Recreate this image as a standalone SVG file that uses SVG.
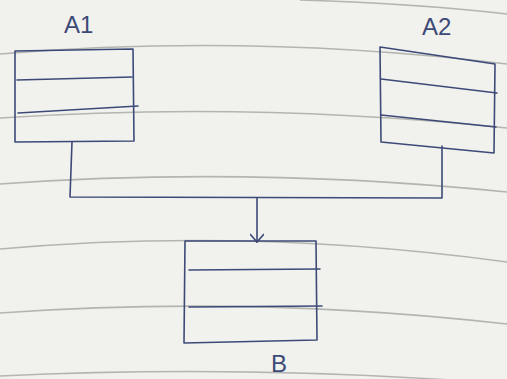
<svg xmlns="http://www.w3.org/2000/svg" width="507" height="379" viewBox="0 0 507 379">
<style>
.paper{fill:#f1f1ed}
.rule{fill:none;stroke:#b4b4b0;stroke-width:1.6}
.pen{fill:none;stroke:#3d4a78;stroke-width:1.6;stroke-linejoin:round;stroke-linecap:round}
.lbl{font-family:"Liberation Sans",Arial,sans-serif;font-size:24px;fill:#3d4a78}
</style>
<defs>
<marker id="arr" viewBox="0 0 12 14" refX="11" refY="7" markerWidth="12" markerHeight="14" markerUnits="userSpaceOnUse" orient="auto">
<path d="M3,0 L11,7 L3,14" fill="none" stroke="#3d4a78" stroke-width="1.6"/>
</marker>
</defs>
<rect class="paper" x="0" y="0" width="507" height="379"/>
<g id="paper-lines">
<path class="rule" d="M300,0 Q420,4 507,14"/>
<path class="rule" d="M0,54 Q250,33 507,64"/>
<path class="rule" d="M0,118 Q250,101 507,128"/>
<path class="rule" d="M0,184 Q250,166 507,192"/>
<path class="rule" d="M0,249 Q250,227 507,262"/>
<path class="rule" d="M0,313 Q250,295 507,324"/>
<path class="rule" d="M0,376 Q250,364 507,384"/>
</g>
<g id="connectors">
<path class="pen" d="M72,142 L70,197 L442,198 L442,146"/>
<path class="pen" d="M257,198 L257,242" marker-end="url(#arr)"/>
</g>
<g id="A1">
<path class="pen" d="M15,51 L133,49 L134,141 L15,142 Z"/>
<path class="pen" d="M17,80 L132,77"/>
<path class="pen" d="M18,113 L138,106"/>
<text class="lbl" x="64" y="33">A1</text>
</g>
<g id="A2">
<path class="pen" d="M380,47 L495,64 L494,153 L381,142 Z"/>
<path class="pen" d="M381,79 L497,93"/>
<path class="pen" d="M381,115 L496,127"/>
<text class="lbl" x="422" y="35">A2</text>
</g>
<g id="B">
<path class="pen" d="M185,241 L316,241 L317,340 L184,343 Z"/>
<path class="pen" d="M189,270 L320,269"/>
<path class="pen" d="M189,307 L322,306"/>
<text class="lbl" x="271" y="372" font-size="26">B</text>
</g>
</svg>
